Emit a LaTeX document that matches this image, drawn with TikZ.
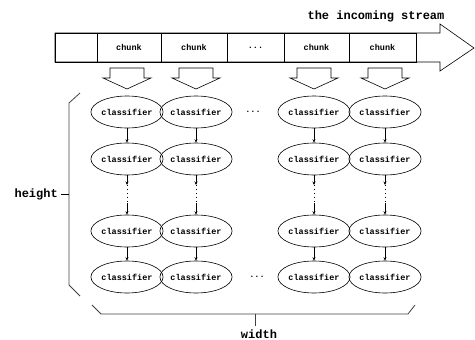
\documentclass[tikz,border=0pt]{standalone}
\usepackage{fontspec}
\setmonofont{Liberation Mono}
\usetikzlibrary{arrows.meta,shapes.geometric}
\begin{document}
\begin{tikzpicture}[x=1pt,y=-1pt,
  font=\ttfamily\bfseries,
  cell/.style={draw,line width=0.6pt,minimum height=29pt,inner sep=0pt,font=\ttfamily\bfseries\fontsize{8.5}{10}\selectfont},
  clf/.style={draw,ellipse,line width=0.6pt,minimum width=65pt,minimum height=32pt,inner sep=0pt,font=\ttfamily\bfseries\fontsize{8.5}{10}\selectfont},
  lab/.style={font=\ttfamily\bfseries\fontsize{12}{14}\selectfont,inner sep=0pt},
  dotsn/.style={inner sep=0pt,font=\ttfamily\bfseries\fontsize{8.5}{10}\selectfont},
  link/.style={line width=0.5pt,-{Stealth[length=3.5pt,width=3pt]}},
  dotl/.style={line width=0.7pt,dash pattern=on 0.7pt off 3.3pt},
  blk/.style={line width=0.6pt},
  brk/.style={line width=0.8pt,black!75}]
\useasboundingbox (0,0) rectangle (475,340);
% stream arrow outline
\draw[line width=0.6pt] (55,33) -- (440,33) -- (440,24) -- (474,48) -- (440,71) -- (440,62) -- (55,62) -- cycle;
\node[cell,minimum width=42pt] (c0) at (76,47.5) {};
\node[cell,minimum width=64pt] (c1) at (129,47.5) {chunk};
\node[cell,minimum width=66pt] (c2) at (194,47.5) {chunk};
\node[cell,minimum width=57pt] (cd) at (255.5,47.5) {...};
\node[cell,minimum width=65pt] (c3) at (316.5,47.5) {chunk};
\node[cell,minimum width=67pt] (c4) at (382.5,47.5) {chunk};
\node[lab] (title) at (376,16) {the incoming stream};
% block arrows
\foreach \cx in {127,196,314,385}{
  \draw[blk] (\cx-17,68) -- (\cx+17,68) -- (\cx+17,78) -- (\cx+24,78) -- (\cx,89) -- (\cx-24,78) -- (\cx-17,78) -- cycle;
}
% classifiers
\foreach \i/\cx in {1/127,2/196,3/314,4/385}{
  \node[clf] (a\i) at (\cx,112) {classifier};
  \node[clf] (b\i) at (\cx,159) {classifier};
  \coordinate (p\i) at (\cx,185);
  \coordinate (q\i) at (\cx,203);
  \node[clf] (d\i) at (\cx,231) {classifier};
  \node[clf] (e\i) at (\cx,277) {classifier};
  \draw[link] (a\i) -- (b\i);
  \draw[link] (b\i) -- (p\i);
  \draw[dotl] ([yshift=4pt]p\i) -- (q\i);
  \draw[link] (q\i) -- (d\i);
  \draw[link] (d\i) -- (e\i);
}
\node[dotsn] (h1) at (253,112) {...};
\node[dotsn] (h2) at (257,277) {...};
% brackets
\draw[brk] (80,93) -- (69,103) -- (69,285) -- (80,296);
\coordinate (ht) at (69,194);
\node[lab,anchor=east] (hl) at (58,194) {height};
\draw[brk,black] (hl.east) ++(3,0) -- (ht);
\draw[brk] (92,305) -- (101,314) -- (408,314) -- (415,305);
\coordinate (wt) at (255,314);
\node[lab] (wl) at (259,334) {width};
\draw[brk] (wt) -- (255,326);
\end{tikzpicture}
\end{document}
